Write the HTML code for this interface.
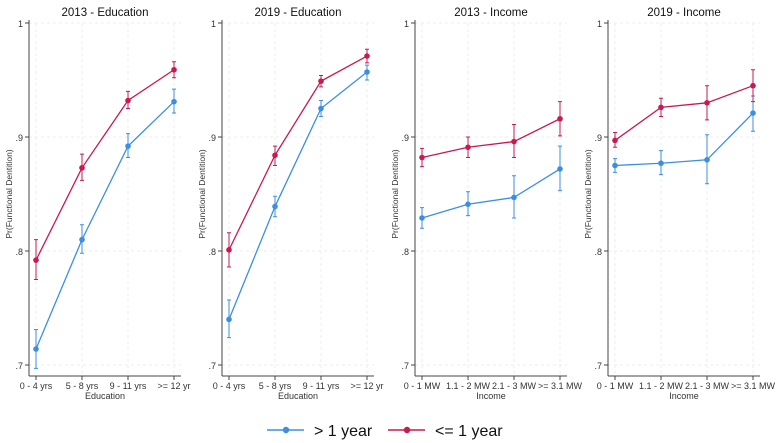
<!DOCTYPE html>
<html><head><meta charset="utf-8"><style>
body{margin:0;background:#fff;}
svg{display:block;font-family:"Liberation Sans",Arial,sans-serif;}
</style></head><body>
<svg id="c" width="777" height="443" viewBox="0 0 777 443"></svg>
<script>
const panelTitles=["2013 - Education","2019 - Education","2013 - Income","2019 - Income"];
const xTitles=["Education","Education","Income","Income"];
const eduCats=["0 - 4 yrs","5 - 8 yrs","9 - 11 yrs",">= 12 yr"];
const incCats=["0 - 1 MW","1.1 - 2 MW","2.1 - 3 MW",">= 3.1 MW"];
const yTicks=[0.7,0.8,0.9,1];
const yTickLabels=[".7",".8",".9","1"];
const blueVals=[[.714,.810,.892,.931],[.740,.839,.925,.957],[.829,.841,.847,.872],[.875,.877,.880,.921]];
const blueLo=[[.697,.798,.882,.921],[.724,.830,.918,.950],[.820,.831,.829,.853],[.869,.867,.859,.905]];
const blueHi=[[.731,.823,.903,.942],[.757,.848,.932,.963],[.838,.852,.866,.892],[.881,.888,.902,.936]];
const redVals=[[.792,.873,.932,.959],[.801,.884,.949,.971],[.882,.891,.896,.916],[.897,.926,.930,.945]];
const redLo=[[.775,.862,.925,.952],[.786,.875,.944,.965],[.874,.882,.882,.901],[.891,.918,.915,.931]];
const redHi=[[.810,.885,.940,.966],[.816,.892,.954,.977],[.890,.900,.911,.931],[.904,.934,.945,.959]];
const BLUE="#3b8fe3",RED="#c81a50";
const svg=document.getElementById('c');
const NS="http://www.w3.org/2000/svg";
function mk(t,a,p){const e=document.createElementNS(NS,t);for(const k in a)e.setAttribute(k,a[k]);(p||svg).appendChild(e);return e;}
const offsets=[0,193,386,579];
const yS=v=>23+(1-v)/0.3*342;
for(let p=0;p<4;p++){
  const o=offsets[p];
  const cats=p<2?eduCats:incCats;
  const xS=i=>o+36+i*46;
  const g=mk('g',{});
  
  
  // grid
  yTicks.forEach((t,i)=>{
    const gl=mk('line',{x1:o+29,x2:o+181,y1:yS(t),y2:yS(t),stroke:"#eee","stroke-width":1,"stroke-dasharray":"3,3"},g);
    
    const tk=mk('line',{x1:o+25,x2:o+29,y1:yS(t),y2:yS(t),stroke:"#444"},g);
    
    const tl=mk('text',{x:o+23,y:yS(t)+4,"text-anchor":"end","font-size":9,fill:"#333"},g);
    tl.textContent=yTickLabels[i];
    
  });
  cats.forEach((c,i)=>{
    const gl=mk('line',{x1:xS(i),x2:xS(i),y1:23,y2:376,stroke:"#eee","stroke-dasharray":"3,3"},g);
    
    const tk=mk('line',{x1:xS(i),x2:xS(i),y1:376,y2:380,stroke:"#444"},g);
    
    const tl=mk('text',{x:xS(i),y:389,"text-anchor":"middle","font-size":9,fill:"#333"},g);
    tl.textContent=c;
    
  });
  const ya=mk('line',{x1:o+29,x2:o+29,y1:20,y2:376,stroke:"#444"},g);
  
  const xa=mk('line',{x1:o+29,x2:o+181,y1:376,y2:376,stroke:"#444"},g);
  
  const tt=mk('text',{x:o+105,y:16,"text-anchor":"middle","font-size":11.5,fill:"#111"},g);
  tt.textContent=panelTitles[p];
  
  const xt=mk('text',{x:o+105,y:399,"text-anchor":"middle","font-size":9,fill:"#333"},g);
  xt.textContent=xTitles[p];
  
  const yt=mk('text',{x:0,y:0,"text-anchor":"middle","font-size":8.5,fill:"#333",transform:`translate(${o+12},${yS(0.85)}) rotate(-90)`},g);
  yt.textContent="Pr(Functional Dentition)";
  
  [[blueVals,blueLo,blueHi,BLUE,'blue'],[redVals,redLo,redHi,RED,'red']].forEach(([v,lo,hi,col,nm])=>{
    const pts=v[p].map((d,i)=>xS(i)+','+yS(d)).join(' ');
    const pl=mk('polyline',{points:pts,fill:"none",stroke:col,"stroke-width":1.3},g);
    
    v[p].forEach((d,i)=>{
      const x=xS(i);
      const eb=mk('path',{d:`M${x},${yS(lo[p][i])}V${yS(hi[p][i])}M${x-2},${yS(lo[p][i])}h4M${x-2},${yS(hi[p][i])}h4`,stroke:col,"stroke-width":1,fill:"none"},g);
      
      const pt=mk('circle',{cx:x,cy:yS(d),r:2.8,fill:col},g);
      
    });
  });
}
// legend
[[267,BLUE,"> 1 year","legend-entry-gt1"],[388,RED,"<= 1 year","legend-entry-le1"]].forEach(([x,col,lab,nm])=>{
  const g=mk('g',{});
  
  mk('line',{x1:x,x2:x+37,y1:430,y2:430,stroke:col,"stroke-width":1.5},g);
  mk('circle',{cx:x+19,cy:430,r:3.2,fill:col},g);
  const t=mk('text',{x:x+47,y:436,"font-size":16,fill:"#111"},g);
  t.textContent=lab;
});
</script>
</body></html>
